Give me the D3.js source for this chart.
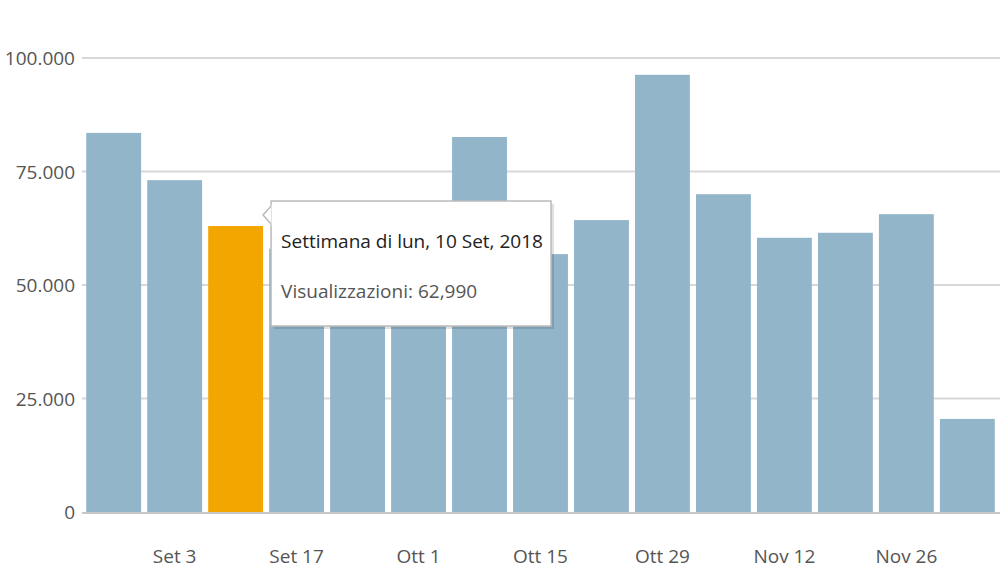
<!DOCTYPE html>
<html>
<head>
<meta charset="utf-8">
<script src="https://cdn.jsdelivr.net/npm/d3@7"></script>
<style>
body { margin: 0; background: #fff; }
svg { font-family: "Open Sans", sans-serif; }
</style>
</head>
<body>
<svg width="1000" height="580"></svg>
<script>
const weeks = ["Ago 27", "Set 3", "Set 10", "Set 17", "Set 24", "Ott 1", "Ott 8", "Ott 15",
    "Ott 22", "Ott 29", "Nov 5", "Nov 12", "Nov 19", "Nov 26", "Dic 3"];
const views = [83500, 73100, 62990, 58000, 55000, 57500, 82600, 56800,
    64300, 96300, 70000, 60400, 61500, 65600, 20500];
const tickLabels = ["Set 3", "Set 17", "Ott 1", "Ott 15", "Ott 29", "Nov 12", "Nov 26"];
const yTicks = [0, 25000, 50000, 75000, 100000];
const highlight = 2;

const svg = d3.select("svg");
const plotLeft = 85, plotRight = 996, plotTop = 58, plotBottom = 512;

const x = d3.scaleBand().domain(weeks).range([plotLeft, plotRight]).paddingInner(0.1).paddingOuter(0.02);
const y = d3.scaleLinear().domain([0, 100000]).range([plotBottom, plotTop]);
const fmt = d => d3.format(",")(d).replace(/,/g, ".");

svg.append("g")
    .selectAll("line")
    .data(yTicks.slice(1))
    .enter()
    .append("line")
    .attr("x1", plotLeft - 3).attr("x2", 1000)
    .attr("y1", d => y(d)).attr("y2", d => y(d))
    .attr("stroke", "#d8d8d8").attr("stroke-width", 2);

svg.append("g")
    .selectAll("text")
    .data(yTicks)
    .enter()
    .append("text")
    .attr("x", 75).attr("y", d => y(d) + 7)
    .attr("text-anchor", "end")
    .attr("font-size", 19).attr("fill", "#555")
    .text(fmt);

svg.append("g")
    .selectAll("rect")
    .data(views)
    .enter()
    .append("rect")
    .attr("x", (d, i) => x(weeks[i]))
    .attr("y", d => y(d))
    .attr("width", x.bandwidth())
    .attr("height", d => plotBottom - y(d))
    .attr("fill", (d, i) => i === highlight ? "#f3a600" : "#92b5ca");

svg.append("line")
    .attr("x1", plotLeft - 3).attr("x2", 1000)
    .attr("y1", plotBottom + 1).attr("y2", plotBottom + 1)
    .attr("stroke", "#c8c8c8").attr("stroke-width", 2);

svg.append("g")
    .selectAll("text")
    .data(tickLabels)
    .enter()
    .append("text")
    .attr("x", d => x(d) + x.bandwidth() / 2)
    .attr("y", 563)
    .attr("text-anchor", "middle")
    .attr("font-size", 19).attr("fill", "#555")
    .text(d => d);

// tooltip
const tx = x(weeks[highlight]) + x.bandwidth() + 8, ty = y(views[highlight]) - 25;
const tip = svg.append("g").attr("transform", `translate(${tx},${ty})`);
tip.append("rect").attr("x", 3).attr("y", 3).attr("width", 280).attr("height", 125)
    .attr("fill", "#000").attr("opacity", 0.12);
tip.append("rect").attr("width", 280).attr("height", 125)
    .attr("fill", "#fff").attr("stroke", "#bbb").attr("stroke-width", 1.5);
tip.append("path").attr("d", "M0,5 L-8,14 L0,23").attr("fill", "#fff").attr("stroke", "#bbb").attr("stroke-width", 1.5);
tip.append("rect").attr("x", 0.5).attr("y", 4).attr("width", 2).attr("height", 20).attr("fill", "#fff");
tip.append("text").attr("x", 10).attr("y", 47).attr("font-size", 19).attr("fill", "#222")
    .text("Settimana di lun, 10 Set, 2018");
tip.append("text").attr("x", 10).attr("y", 97).attr("font-size", 19).attr("fill", "#555")
    .text("Visualizzazioni: " + d3.format(",")(views[highlight]));
</script>
</body>
</html>
